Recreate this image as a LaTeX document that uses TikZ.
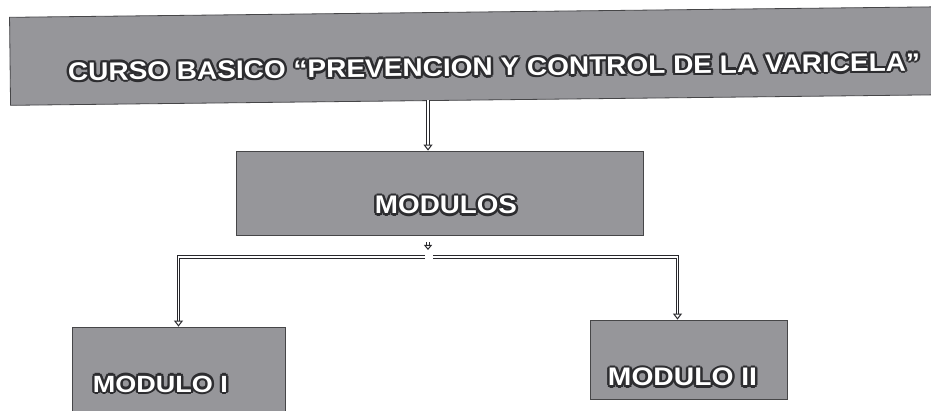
\documentclass[tikz,border=0pt]{standalone}
\usepackage{fontspec}
\setmainfont{Liberation Sans}
\usepackage{graphicx}
\usetikzlibrary{arrows.meta}
\definecolor{boxfill}{RGB}{150,150,154}
\definecolor{boxedge}{RGB}{70,70,72}
\definecolor{txtline}{RGB}{45,45,48}
\definecolor{conn}{RGB}{40,40,44}
\newcommand\outl[1]{\leavevmode
  \rlap{\kern-0.9pt\hbox{\color{txtline}#1}}%
  \rlap{\kern0.9pt\hbox{\color{txtline}#1}}%
  \rlap{\raise0.9pt\hbox{\color{txtline}#1}}%
  \rlap{\lower0.9pt\hbox{\color{txtline}#1}}%
  \rlap{\kern0.65pt\raise0.65pt\hbox{\color{txtline}#1}}%
  \rlap{\kern-0.65pt\raise0.65pt\hbox{\color{txtline}#1}}%
  \rlap{\kern0.65pt\lower0.65pt\hbox{\color{txtline}#1}}%
  \rlap{\kern-0.65pt\lower0.65pt\hbox{\color{txtline}#1}}%
  \hbox{\color{white}#1}}
\tikzset{
  gbox/.style={draw=boxedge, line width=0.8pt, fill=boxfill, inner sep=0pt, anchor=center},
  lbl/.style={inner sep=0pt, anchor=center, font=\bfseries},
  dconn/.style={draw=conn, line width=1pt, double=white, double distance=1.8pt,
     -{Triangle[open, length=6pt, width=9pt]}}
}
\begin{document}
\begin{tikzpicture}[x=1pt, y=-1pt]
\useasboundingbox (0,0) rectangle (931,411);
\clip (0,0) rectangle (931,411);
\fill[white] (0,0) rectangle (931,411);
% boxes
\node[gbox, minimum width=940pt, minimum height=88pt, rotate=0.65] (banner) at (480,56) {};
\node[gbox, minimum width=407pt, minimum height=84pt] (mod) at (439.5,193) {};
\node[gbox, minimum width=213pt, minimum height=100pt] (m1) at (178.5,377) {};
\node[gbox, minimum width=197pt, minimum height=79pt] (m2) at (688.5,359.5) {};
% texts
\node[lbl, rotate=0.65] (t0) at (494,67) {\resizebox{852pt}{20pt}{\outl{CURSO BASICO “PREVENCION Y CONTROL DE LA VARICELA”}}};
\node[lbl] (t1) at (446,205) {\resizebox{142pt}{20pt}{\outl{MODULOS}}};
\node[lbl] (t2) at (160.5,384) {\resizebox{135pt}{18.5pt}{\outl{MODULO I}}};
\node[lbl] (t3) at (682.5,377) {\resizebox{149pt}{20pt}{\outl{MODULO II}}};
% connectors
\coordinate (c1) at (428,0);
\coordinate (c2) at (428,250);
\coordinate (hl) at (425,257);
\coordinate (hr) at (433,257);
\draw[dconn] (banner.south -| c1) -- (mod.north -| c1);
\draw[dconn, shorten <=7pt, -{Triangle[open, length=5pt, width=8pt]}] (mod.south -| c1) -- (c2);
\draw[dconn] (hl) -| (m1.north);
\draw[dconn] (hr) -| ([xshift=-11pt]m2.north);
\end{tikzpicture}
\end{document}
